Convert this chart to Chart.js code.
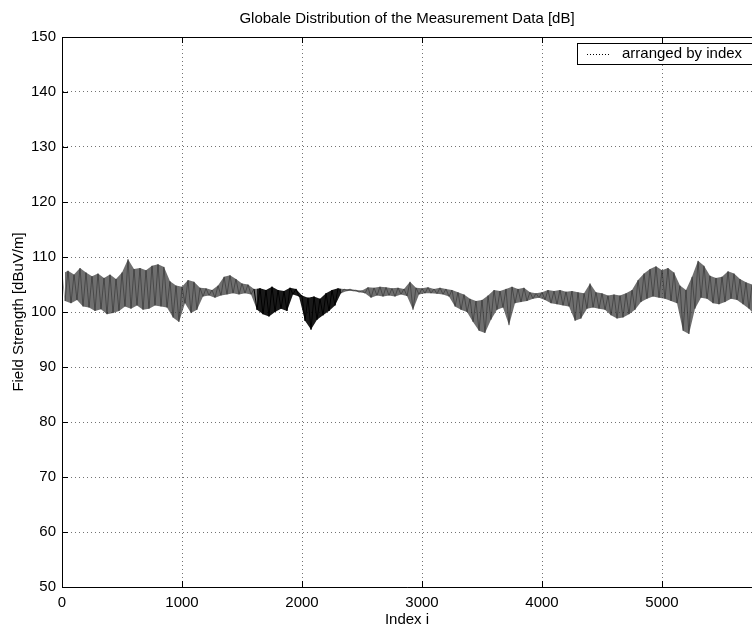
<!DOCTYPE html>
<html>
<head>
<meta charset="utf-8">
<title>Globale Distribution of the Measurement Data</title>
<script src="https://cdn.jsdelivr.net/npm/chart.js@4.4.0/dist/chart.umd.min.js"></script>
<style>
    html, body { margin: 0; padding: 0; background: #fff; overflow: hidden; }
    #wrap { width: 752px; height: 627px; }
</style>
</head>
<body>
<div id="wrap"><canvas id="fieldChart" width="752" height="627"></canvas></div>
<script>
// envelope of the measured trace, one pair per 50 samples (index 0 .. 5750)
var binStep = 50;
var upperValues = [
    107.0, 107.5, 106.8, 108.0, 107.2, 106.5, 107.0, 106.2, 106.8, 106.0,
    107.2, 109.6, 107.8, 108.0, 107.6, 108.4, 108.7, 108.2, 105.6, 104.8,
    104.6, 105.8, 105.5, 104.4, 104.3, 104.0, 104.8, 106.4, 106.7, 106.0,
    105.2, 105.0, 104.2, 104.3, 104.0, 104.6, 104.0, 103.8, 104.4, 104.2,
    103.0, 102.6, 102.8, 102.4, 103.4, 104.0, 104.3, 104.2, 104.2, 104.0,
    103.9, 104.5, 104.4, 104.6, 104.5, 104.3, 104.4, 104.2, 105.5, 104.4,
    104.3, 104.5, 104.2, 104.4, 104.2, 104.0, 103.6, 103.2, 102.4, 102.0,
    102.2, 103.0, 104.0, 103.8, 104.2, 104.6, 104.2, 104.4, 103.6, 103.4,
    103.6, 104.0, 103.8, 104.0, 103.7, 103.8, 103.6, 103.4, 105.2, 103.6,
    103.4, 103.0, 103.2, 103.0, 103.4, 104.0, 105.8, 107.0, 107.8, 108.3,
    107.6, 108.0, 107.2, 104.8, 104.0, 106.4, 109.3, 108.4, 106.6, 106.2,
    106.4, 107.4, 107.0, 106.0, 105.4, 105.0
];
var lowerValues = [
    102.0, 101.6, 102.2, 101.0, 100.8, 100.2, 100.5, 99.6, 99.8, 100.2,
    101.0, 100.6, 101.2, 100.4, 100.6, 101.2, 101.0, 100.8, 99.0, 98.2,
    101.6, 99.8, 100.4, 102.8, 103.0, 102.6, 103.0, 103.2, 103.4, 103.2,
    103.4, 103.2, 100.4, 99.6, 99.2, 100.0, 100.6, 100.2, 103.2, 102.8,
    98.4, 96.8, 98.6, 99.4, 100.2, 101.2, 103.4, 103.8, 103.8, 103.6,
    103.4, 102.6, 103.0, 102.8, 103.0, 102.8, 103.2, 102.9, 100.4, 103.2,
    103.4, 103.4, 103.3, 103.2, 102.8, 101.0, 100.4, 100.0, 98.2, 96.6,
    96.2, 98.6, 100.4, 100.8, 97.6, 101.6, 101.8, 102.0, 102.4, 102.6,
    102.2, 101.6, 101.4, 101.2, 101.0, 98.4, 98.8, 100.6, 100.8, 100.6,
    100.4, 99.4, 98.8, 99.0, 99.6, 100.4, 101.8, 102.4, 102.8, 102.6,
    102.4, 102.0, 101.6, 96.6, 96.0, 100.6, 102.6, 102.4, 101.6, 101.4,
    101.8, 102.4, 102.2, 101.4, 100.6, 99.4
];
// stretch of the recording that prints as a solid black trace
var darkRange = [1600, 2300];
var xTicks = [0, 1000, 2000, 3000, 4000, 5000];
var yTicks = [50, 60, 70, 80, 90, 100, 110, 120, 130, 140, 150];

var FONT = "'Liberation Sans Narrow', 'Liberation Sans', Arial, sans-serif";
var GRAY_LINE = 'rgba(0,0,0,0.35)';
var GRAY_FILL = 'rgba(55,55,55,0.72)';
var DARK_FILL = 'rgba(0,0,0,0.9)';

function inDark(x) {
    return x >= darkRange[0] && x < darkRange[1];
}

function buildTrace() {
    var pts = [];
    for (var k = 0; k < upperValues.length; k++) {
        pts.push({ x: k * binStep, y: upperValues[k] });
        pts.push({ x: k * binStep + binStep / 2, y: lowerValues[k] });
    }
    return pts;
}

function buildEdge(values, shift) {
    return values.map(function (v, k) { return { x: k * binStep + shift, y: v }; });
}

// MATLAB style frame: top border, inward ticks and boxed legend
var framePlugin = {
    id: 'frame',
    afterDraw: function (chart) {
        var ctx = chart.ctx, a = chart.chartArea;
        var xs = chart.scales.x, ys = chart.scales.y;
        var len = 6;
        ctx.save();
        ctx.strokeStyle = '#000';
        ctx.lineWidth = 1;
        ctx.beginPath();
        ctx.moveTo(a.left, a.top + 0.5);
        ctx.lineTo(a.right, a.top + 0.5);
        xTicks.forEach(function (v) {
            var px = Math.round(xs.getPixelForValue(v)) + 0.5;
            ctx.moveTo(px, a.bottom);
            ctx.lineTo(px, a.bottom - len);
            ctx.moveTo(px, a.top);
            ctx.lineTo(px, a.top + len);
        });
        yTicks.forEach(function (v) {
            var py = Math.round(ys.getPixelForValue(v)) + 0.5;
            ctx.moveTo(a.left, py);
            ctx.lineTo(a.left + len, py);
        });
        ctx.stroke();

        // legend box
        var bx = a.right - 175, by = a.top + 6, bw = 180, bh = 21;
        ctx.fillStyle = '#fff';
        ctx.fillRect(bx, by, bw, bh);
        ctx.strokeRect(bx + 0.5, by + 0.5, bw, bh);
        ctx.setLineDash([1, 2]);
        ctx.beginPath();
        ctx.moveTo(bx + 10, by + 11.5);
        ctx.lineTo(bx + 32, by + 11.5);
        ctx.stroke();
        ctx.setLineDash([]);
        ctx.fillStyle = '#000';
        ctx.font = '15px ' + FONT;
        ctx.textBaseline = 'middle';
        ctx.textAlign = 'left';
        ctx.fillText(chart.data.datasets[0].label, bx + 45, by + 11);
        ctx.restore();
    }
};

var gridStyle = {
    color: 'rgba(0,0,0,0.55)',
    lineWidth: 1,
    drawTicks: false
};

new Chart(document.getElementById('fieldChart').getContext('2d'), {
    type: 'line',
    data: {
        datasets: [{
            label: 'arranged by index',
            data: buildTrace(),
            parsing: false,
            borderWidth: 1,
            borderColor: GRAY_LINE,
            pointRadius: 0,
            fill: false,
            tension: 0,
            segment: {
                borderColor: function (c) { return inDark(c.p0.parsed.x) ? '#000' : GRAY_LINE; }
            }
        }, {
            label: 'upper',
            data: buildEdge(upperValues, 0),
            parsing: false,
            borderWidth: 0,
            pointRadius: 0,
            fill: false,
            tension: 0
        }, {
            label: 'lower',
            data: buildEdge(lowerValues, binStep / 2),
            parsing: false,
            borderWidth: 0,
            pointRadius: 0,
            backgroundColor: GRAY_FILL,
            fill: '-1',
            tension: 0,
            segment: {
                backgroundColor: function (c) { return inDark(c.p0.parsed.x) ? DARK_FILL : GRAY_FILL; }
            }
        }]
    },
    options: {
        responsive: false,
        animation: false,
        devicePixelRatio: 1,
        layout: { padding: 0 },
        scales: {
            x: {
                type: 'linear',
                min: 0,
                max: 5750,
                afterBuildTicks: function (scale) {
                    scale.ticks = xTicks.map(function (v) { return { value: v }; });
                },
                afterFit: function (scale) { scale.height = 40; },
                grid: Object.assign({}, gridStyle),
                border: { display: true, color: '#000', width: 1, dash: [1, 3] },
                ticks: {
                    color: '#000', padding: 7, maxRotation: 0,
                    font: { family: FONT, size: 15 },
                    callback: function (v) { return String(v); }
                },
                title: { display: true, text: 'Index i', color: '#000', padding: 0, font: { family: FONT, size: 15, lineHeight: 1 } }
            },
            y: {
                min: 50,
                max: 150,
                afterBuildTicks: function (scale) {
                    scale.ticks = yTicks.map(function (v) { return { value: v }; });
                },
                afterFit: function (scale) { scale.width = 62; },
                grid: Object.assign({}, gridStyle),
                border: { display: true, color: '#000', width: 1, dash: [1, 3] },
                ticks: {
                    color: '#000', padding: 6,
                    font: { family: FONT, size: 15 },
                    callback: function (v) { return String(v); }
                },
                title: { display: true, text: 'Field Strength [dBuV/m]', color: '#000', padding: { top: 10, bottom: 0 }, font: { family: FONT, size: 15 } }
            }
        },
        plugins: {
            legend: { display: false },
            tooltip: { enabled: false },
            title: {
                display: true,
                fullSize: false,
                text: 'Globale Distribution of the Measurement Data [dB]',
                color: '#000',
                padding: { top: 10, bottom: 9 },
                font: { family: FONT, size: 15, weight: 'normal' }
            }
        }
    },
    plugins: [framePlugin]
});
</script>
</body>
</html>
